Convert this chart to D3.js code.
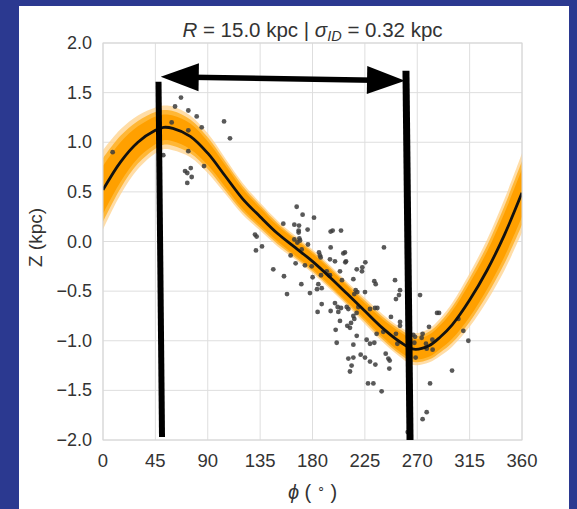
<!DOCTYPE html>
<html>
<head>
<meta charset="utf-8">
<script src="https://cdn.jsdelivr.net/npm/d3@7"></script>
<style>
  body { margin: 0; background: #2b3990; }
  svg { display: block; }
  text { font-family: 'Liberation Sans', Arial, sans-serif; fill: #333; }
</style>
</head>
<body>
<div id="chart"></div>
<script>
// model curve (phi in degrees, Z in kpc)
const phiGrid = [0, 15, 30, 45, 52, 60, 75, 90, 105, 120, 135, 150, 165, 180, 195, 210, 225, 240, 255, 267, 280, 290, 300, 315, 330, 345, 360]
const curveZ = [0.52, 0.80, 1.00, 1.12, 1.15, 1.14, 1.06, 0.89, 0.66, 0.43, 0.25, 0.08, -0.06, -0.20, -0.36, -0.53, -0.70, -0.87, -1.01, -1.085, -1.05, -0.96, -0.84, -0.59, -0.29, 0.07, 0.49]
// half widths of the orange posterior band
const spreadOuter = [0.40, 0.33, 0.27, 0.23, 0.22, 0.22, 0.21, 0.20, 0.18, 0.16, 0.14, 0.13, 0.12, 0.12, 0.12, 0.12, 0.13, 0.14, 0.15, 0.16, 0.17, 0.19, 0.22, 0.27, 0.31, 0.36, 0.40]
const spreadInner = [0.24, 0.20, 0.16, 0.14, 0.13, 0.13, 0.13, 0.12, 0.11, 0.10, 0.09, 0.08, 0.08, 0.08, 0.08, 0.08, 0.08, 0.09, 0.10, 0.10, 0.11, 0.12, 0.14, 0.17, 0.19, 0.22, 0.24]

// observed stars [phi, Z]
const stars = [
  [47.5, 1.56], [67.0, 1.45], [61.9, 1.36], [73.3, 1.32], [80.5, 1.26], [59.0, 1.20], [73.3, 1.12],
  [84.8, 1.15], [104.0, 1.21], [109.1, 1.04], [8.3, 0.90], [73.3, 0.91], [51.8, 0.87], [86.8, 0.76],
  [75.4, 0.74], [70.5, 0.71], [72.4, 0.69], [76.2, 0.65], [72.4, 0.59],
  [166.4, 0.35], [171.5, 0.27], [181.3, 0.24], [154.9, 0.18], [164.4, 0.17], [168.4, 0.16], [168.1, 0.11],
  [175.8, 0.12], [168.1, 0.09], [130.6, 0.07], [132.0, 0.05], [164.4, 0.02], [168.7, 0.03], [169.3, 0.01],
  [167.0, -0.01], [176.1, -0.03], [195.6, 0.10], [197.3, 0.11], [204.5, 0.11], [131.4, -0.09], [136.6, -0.05],
  [170.7, -0.08], [185.6, -0.11], [186.4, -0.14], [161.2, -0.14], [187.0, -0.16], [207.9, -0.11], [206.5, -0.12],
  [241.4, -0.06], [195.0, -0.18], [199.3, -0.20], [208.8, -0.20], [208.2, -0.21], [225.4, -0.21], [222.8, -0.26],
  [222.5, -0.30], [218.0, -0.28], [146.3, -0.28], [165.5, -0.22], [173.5, -0.24], [179.3, -0.25], [192.2, -0.30],
  [194.5, -0.34], [203.6, -0.30], [155.5, -0.35], [180.1, -0.36], [187.3, -0.34], [195.0, -0.34], [233.1, -0.40],
  [234.3, -0.43], [215.1, -0.38], [205.3, -0.39], [170.4, -0.43], [250.9, -0.39], [158.1, -0.53], [177.8, -0.52],
  [185.0, -0.43], [183.9, -0.48], [187.9, -0.47], [217.1, -0.49], [218.5, -0.51], [215.9, -0.53], [225.1, -0.51],
  [255.2, -0.49], [254.3, -0.54], [272.4, -0.54], [251.7, -0.58], [187.9, -0.63], [184.4, -0.71], [195.6, -0.70],
  [199.3, -0.62], [201.6, -0.66], [204.5, -0.67], [209.4, -0.66], [210.8, -0.68], [202.2, -0.71], [219.4, -0.66],
  [229.4, -0.68], [233.7, -0.67], [235.7, -0.67], [215.1, -0.75], [217.9, -0.72], [203.6, -0.80], [213.1, -0.82],
  [209.9, -0.85], [212.2, -0.87], [215.9, -0.78], [247.4, -0.76], [255.2, -0.81], [255.2, -0.85], [287.0, -0.72],
  [288.7, -0.72], [280.1, -0.86], [274.6, -0.93], [266.6, -0.94], [273.8, -0.97], [267.5, -1.02], [277.5, -1.03],
  [278.1, -1.08], [283.2, -1.09], [309.6, -0.90], [313.9, -1.00], [305.3, -0.78], [199.9, -0.89], [218.0, -0.95],
  [226.5, -0.99], [200.8, -1.02], [233.1, -1.02], [229.4, -1.03], [235.1, -0.93], [240.8, -0.91], [251.7, -0.93],
  [252.9, -1.03], [215.1, -1.04], [221.4, -1.14], [225.1, -1.17], [229.4, -1.21], [234.0, -1.24], [242.9, -1.13],
  [245.2, -1.18], [246.3, -1.20], [246.0, -1.28], [210.8, -1.18], [215.1, -1.17], [213.6, -1.25], [212.2, -1.31],
  [268.6, -1.17], [227.7, -1.43], [232.3, -1.43], [239.4, -1.51], [299.9, -1.30], [281.0, -1.43], [278.1, -1.72],
  [274.6, -1.79], [261.8, -1.92], [283.0, -0.99], [268.1, -0.96], [195.6, -0.06]
]

const xTicks = [0, 45, 90, 135, 180, 225, 270, 315, 360]
const yTicks = [-2.0, -1.5, -1.0, -0.5, 0.0, 0.5, 1.0, 1.5, 2.0]

// hand drawn annotation: two bars and a double arrow, in data units
const barLeft = [[47.7, 1.61], [50.7, -1.97]]
const barRight = [[260.3, 1.72], [263.8, -2.0]]
const arrowTips = [[49.6, 1.66], [259.5, 1.62]]

const width = 577
const height = 509
const margin = { top: 43, left: 103, right: 55, bottom: 69 }
const innerW = width - margin.left - margin.right
const innerH = height - margin.top - margin.bottom

const svg = d3
  .select('#chart')
  .append('svg')
  .attr('width', width)
  .attr('height', height)

svg.append('rect')
  .attr('x', 0).attr('y', 0)
  .attr('width', width).attr('height', height)
  .attr('fill', '#2b3990')

svg.append('rect')
  .attr('x', 19).attr('y', 6)
  .attr('width', 550).attr('height', height - 6)
  .attr('fill', '#ffffff')

const x = d3.scaleLinear().domain([0, 360]).range([margin.left, margin.left + innerW])
const y = d3.scaleLinear().domain([-2, 2]).range([margin.top + innerH, margin.top])

svg.append('clipPath').attr('id', 'clip')
  .append('rect')
  .attr('x', margin.left).attr('y', margin.top)
  .attr('width', innerW).attr('height', innerH)

// grid
svg.append('g')
  .selectAll('line')
  .data(xTicks)
  .enter()
  .append('line')
  .attr('x1', d => x(d)).attr('x2', d => x(d))
  .attr('y1', margin.top).attr('y2', margin.top + innerH)
  .attr('stroke', '#dedede').attr('stroke-width', 1)

svg.append('g')
  .selectAll('line')
  .data(yTicks)
  .enter()
  .append('line')
  .attr('x1', margin.left).attr('x2', margin.left + innerW)
  .attr('y1', d => y(d)).attr('y2', d => y(d))
  .attr('stroke', '#dedede').attr('stroke-width', 1)

// band
const rows = phiGrid.map((p, i) => ({ phi: p, z: curveZ[i], so: spreadOuter[i], si: spreadInner[i] }))
const plot = svg.append('g').attr('clip-path', 'url(#clip)')

const areaOuter = d3.area()
  .x(d => x(d.phi)).y0(d => y(d.z - d.so)).y1(d => y(d.z + d.so))
  .curve(d3.curveCatmullRom)
const areaMid = d3.area()
  .x(d => x(d.phi)).y0(d => y(d.z - (d.so + d.si) / 2)).y1(d => y(d.z + (d.so + d.si) / 2))
  .curve(d3.curveCatmullRom)
const areaInner = d3.area()
  .x(d => x(d.phi)).y0(d => y(d.z - d.si)).y1(d => y(d.z + d.si))
  .curve(d3.curveCatmullRom)

plot.append('path').datum(rows).attr('d', areaOuter).attr('fill', '#ffd28a').attr('opacity', 0.75)
plot.append('path').datum(rows).attr('d', areaMid).attr('fill', '#ffb22a').attr('opacity', 0.9)
plot.append('path').datum(rows).attr('d', areaInner).attr('fill', '#ffa000')

// stars
plot.append('g')
  .selectAll('circle')
  .data(stars)
  .enter()
  .append('circle')
  .attr('cx', d => x(d[0]))
  .attr('cy', d => y(d[1]))
  .attr('r', 2.4)
  .attr('fill', '#3c3c3c')
  .attr('opacity', 0.85)

// best fit line
const line = d3.line().x(d => x(d.phi)).y(d => y(d.z)).curve(d3.curveCatmullRom)
plot.append('path').datum(rows)
  .attr('d', line)
  .attr('fill', 'none')
  .attr('stroke', '#111')
  .attr('stroke-width', 2.8)

// axes frame
svg.append('rect')
  .attr('x', margin.left).attr('y', margin.top)
  .attr('width', innerW).attr('height', innerH)
  .attr('fill', 'none').attr('stroke', '#d6d6d6').attr('stroke-width', 1)

// tick labels
const fmt = d3.format('.1f')
svg.append('g')
  .selectAll('text')
  .data(xTicks)
  .enter()
  .append('text')
  .attr('x', d => x(d))
  .attr('y', margin.top + innerH + 27)
  .attr('text-anchor', 'middle')
  .style('font-size', '18.5px')
  .text(d => d)

svg.append('g')
  .selectAll('text')
  .data(yTicks)
  .enter()
  .append('text')
  .attr('x', margin.left - 11)
  .attr('y', d => y(d) + 6)
  .attr('text-anchor', 'end')
  .style('font-size', '18px')
  .text(d => fmt(d))

// title
const title = svg.append('text')
  .attr('x', x(180))
  .attr('y', 37)
  .attr('text-anchor', 'middle')
  .style('font-size', '20.5px')
title.append('tspan').style('font-style', 'italic').text('R')
title.append('tspan').text(' = 15.0 kpc | ')
title.append('tspan').style('font-style', 'italic').text('σ')
title.append('tspan').style('font-style', 'italic').style('font-size', '14.5px').attr('dy', 4).text('ID')
title.append('tspan').attr('dy', -4).text(' = 0.32 kpc')

// axis labels
const xl = svg.append('text')
  .attr('x', x(180))
  .attr('y', 499)
  .attr('text-anchor', 'middle')
  .style('font-size', '20px')
xl.append('tspan').style('font-style', 'italic').text('ϕ')
xl.append('tspan').text(' ( ')
xl.append('tspan').style('font-size', '13px').attr('dy', -7).text('∘')
xl.append('tspan').attr('dy', 7).text(' )')

svg.append('text')
  .attr('transform', 'translate(42,' + (margin.top + innerH / 2 - 4) + ') rotate(-90)')
  .attr('text-anchor', 'middle')
  .style('font-size', '19px')
  .text('Z (kpc)')

// annotation bars and arrow
const notes = svg.append('g')
;[barLeft, barRight].forEach((b, i) => {
  notes.append('line')
    .attr('x1', x(b[0][0])).attr('y1', y(b[0][1]))
    .attr('x2', x(b[1][0])).attr('y2', y(b[1][1]))
    .attr('stroke', '#000')
    .attr('stroke-width', i === 0 ? 6 : 7)
})

const t0 = [x(arrowTips[0][0]), y(arrowTips[0][1])]
const t1 = [x(arrowTips[1][0]), y(arrowTips[1][1])]
const headLen = 38
const headHalf = 14
const ang = Math.atan2(t1[1] - t0[1], t1[0] - t0[0])
const ux = Math.cos(ang), uy = Math.sin(ang)
notes.append('line')
  .attr('x1', t0[0] + ux * headLen * 0.8).attr('y1', t0[1] + uy * headLen * 0.8)
  .attr('x2', t1[0] - ux * headLen * 0.8).attr('y2', t1[1] - uy * headLen * 0.8)
  .attr('stroke', '#000').attr('stroke-width', 5.5)

function head(tip, dir) {
  const bx = tip[0] + dir * ux * headLen
  const by = tip[1] + dir * uy * headLen
  return [tip, [bx - uy * headHalf, by + ux * headHalf], [bx + uy * headHalf, by - ux * headHalf]]
}
notes.selectAll('polygon')
  .data([head(t0, 1), head(t1, -1)])
  .enter()
  .append('polygon')
  .attr('points', d => d.map(p => p.join(',')).join(' '))
  .attr('fill', '#000')
</script>
</body>
</html>
